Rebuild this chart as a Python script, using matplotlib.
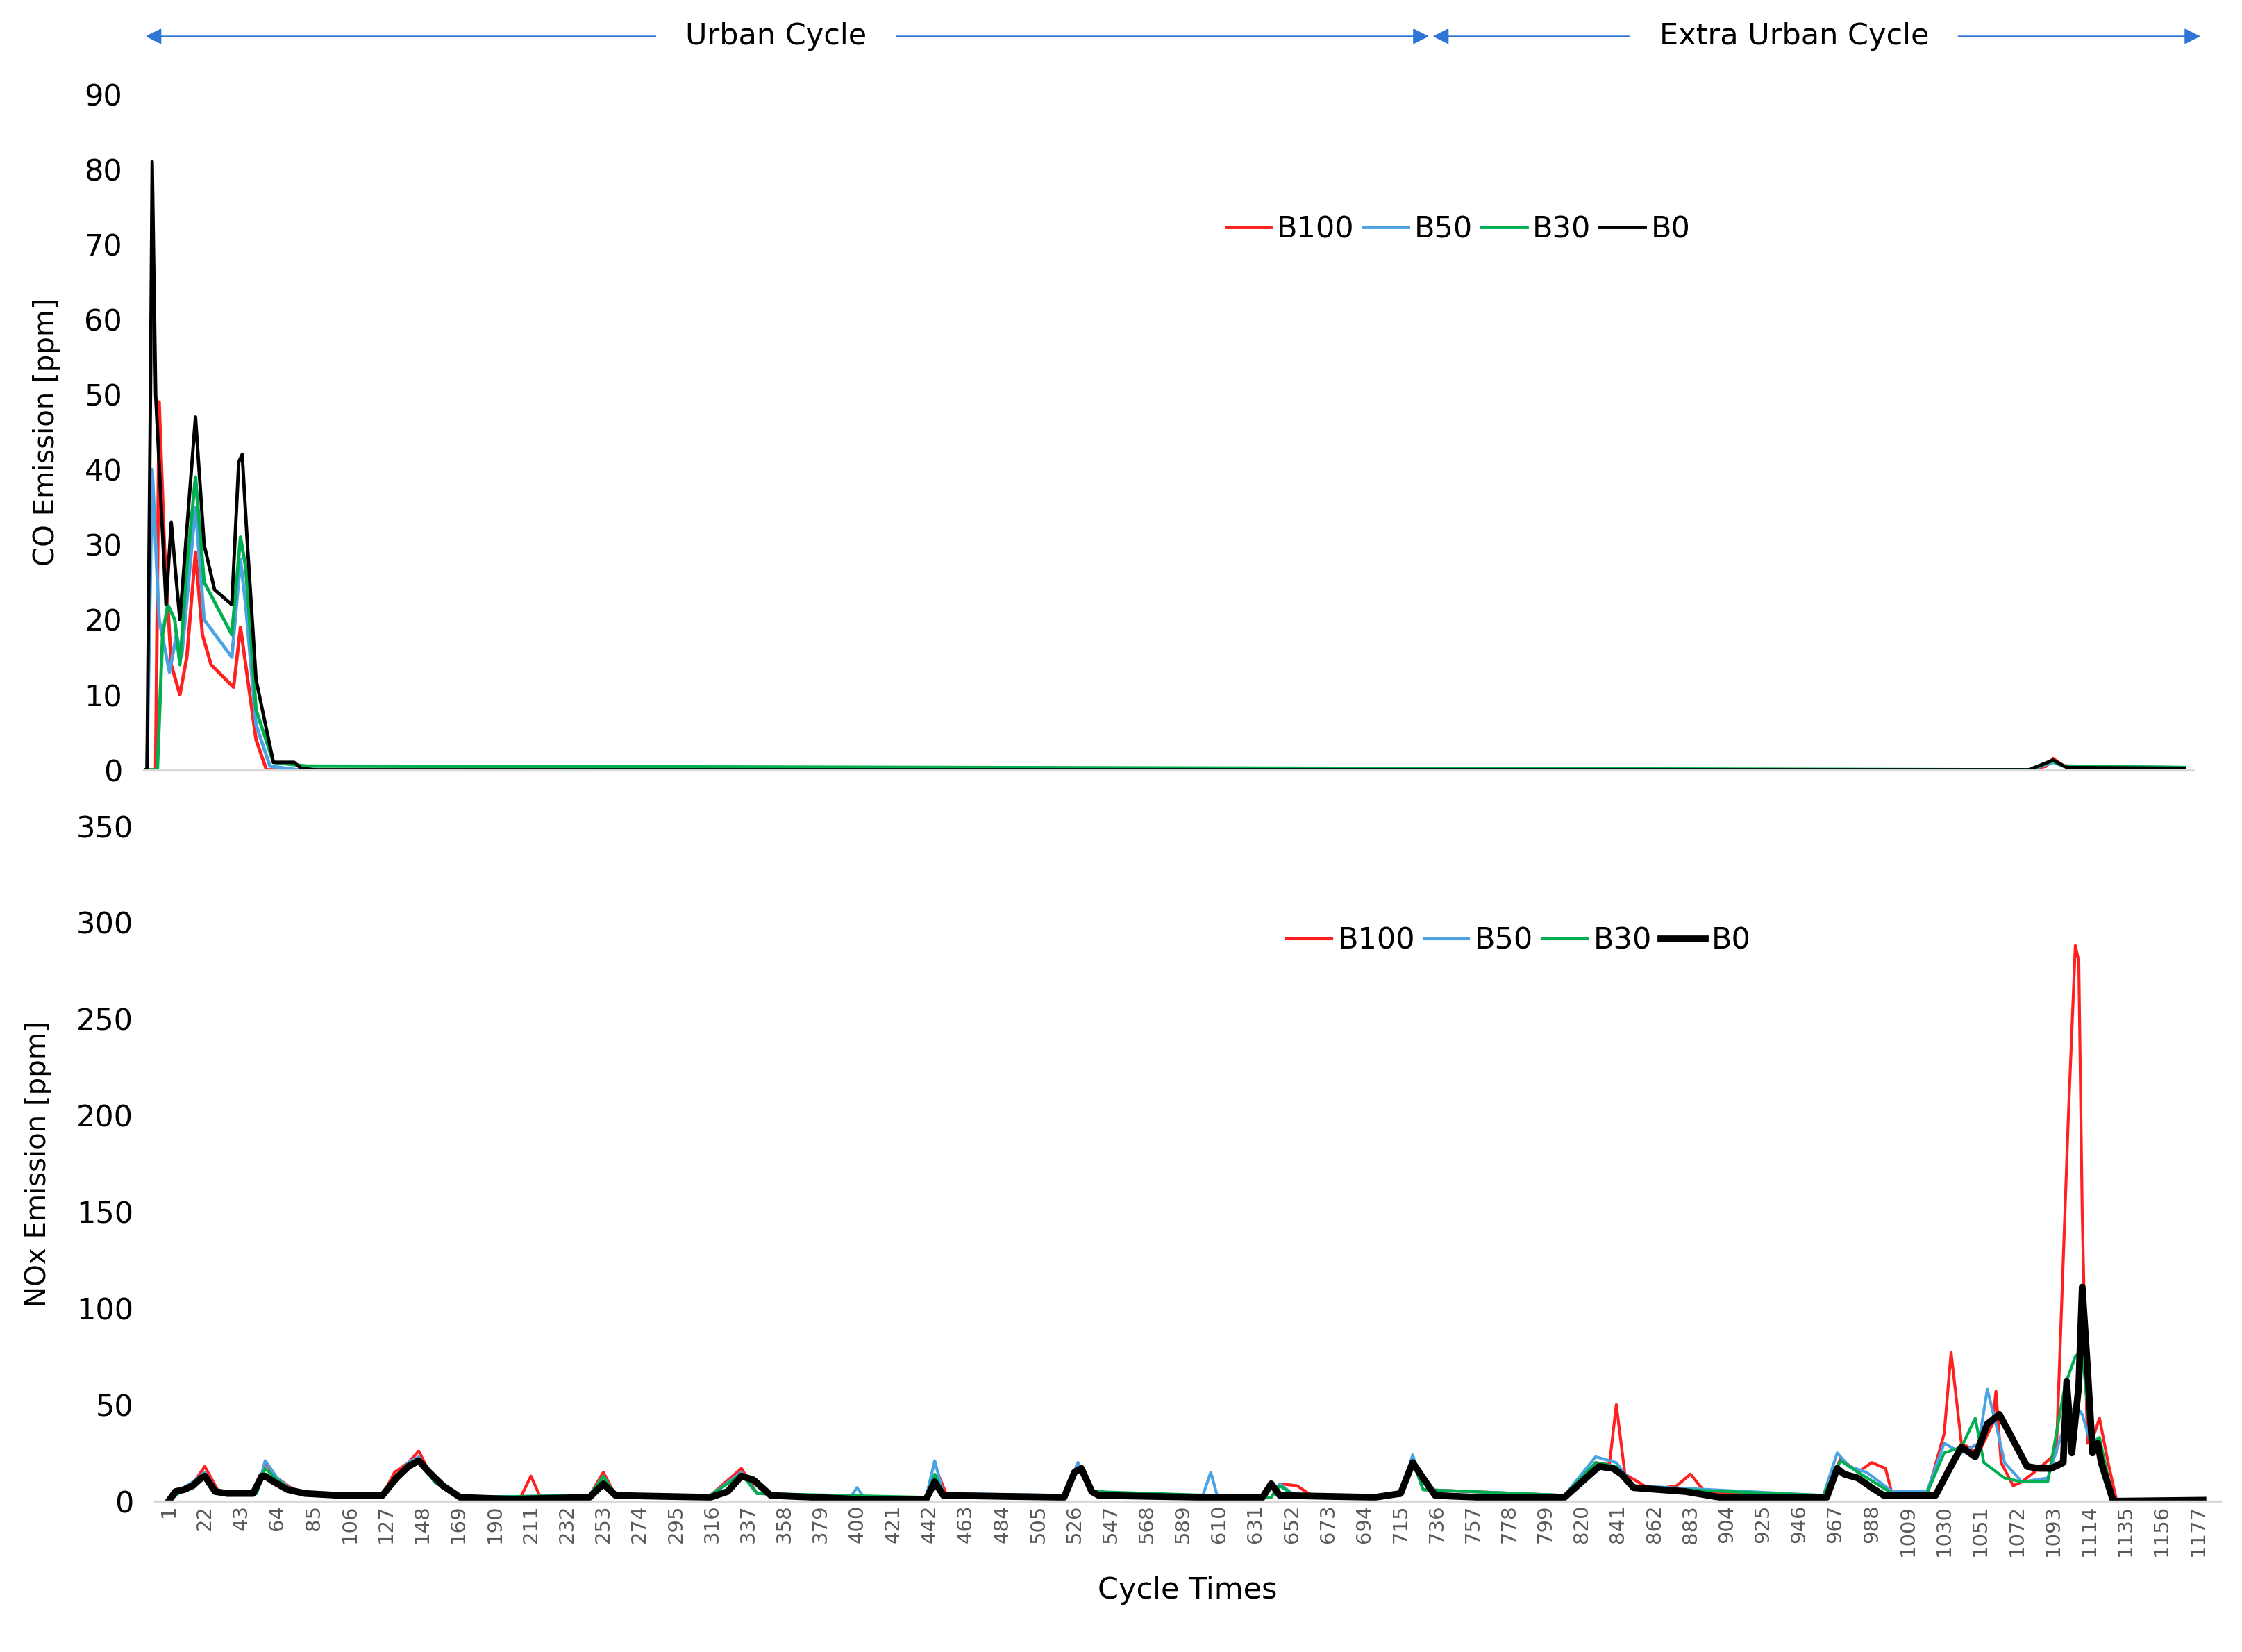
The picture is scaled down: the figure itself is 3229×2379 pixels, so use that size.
import numpy as np
import matplotlib
matplotlib.use("Agg")
import matplotlib.pyplot as plt

# ---- data (breakpoints) ----
co_b100_t = [1, 8, 10, 13, 17, 22, 26, 31, 35, 40, 53, 57, 60, 66, 72, 90, 1090, 1100, 1104, 1110, 1180]
co_b100_v = [0, 0, 49, 30, 14, 10, 15, 29, 18, 14, 11, 19, 14, 4, 0, 0, 0, 0.5, 1.5, 0.5, 0.2]
co_b50_t = [1, 3, 6, 10, 16, 20, 23, 31, 36, 52, 57, 60, 66, 74, 90, 1090, 1104, 1110, 1180]
co_b50_v = [0, 0, 40, 20, 13, 18, 15, 35, 20, 15, 28, 22, 6, 0.5, 0, 0, 1, 0.5, 0.3]
co_b30_t = [1, 9, 12, 15, 19, 22, 26, 31, 36, 52, 57, 60, 66, 76, 95, 1090, 1104, 1110, 1180]
co_b30_v = [0, 0, 18, 22, 20, 14, 27, 39, 25, 18, 31, 27, 8, 1, 0.5, 0, 1.2, 0.5, 0.3]
co_b0_t = [1, 3, 5, 6, 8, 14, 17, 20, 22, 26, 31, 36, 42, 52, 56, 58, 61, 66, 76, 88, 92, 100, 1090, 1104, 1112, 1180]
co_b0_v = [0, 0, 50, 81, 50, 22, 33, 25, 20, 32, 47, 30, 24, 22, 41, 42, 30, 12, 1, 1, 0.2, 0, 0, 1.3, 0.3, 0.2]

nox_b100_t = [1, 8, 15, 22, 30, 40, 52, 57, 64, 75, 100, 125, 132, 140, 146, 155, 170, 205, 211, 216, 245, 253, 260, 315, 333, 342, 395, 440, 447, 452, 520, 528, 536, 600, 640, 645, 655, 665, 715, 722, 728, 810, 828, 836, 840, 845, 860, 875, 883, 892, 960, 970, 980, 988, 996, 1000, 1020, 1030, 1034, 1040, 1050, 1058, 1060, 1063, 1070, 1075, 1085, 1095, 1102, 1106, 1108, 1110, 1113, 1117, 1120, 1125, 1130, 1180]
nox_b100_v = [0, 5, 9, 18, 5, 4, 4, 20, 12, 5, 3, 3, 15, 20, 26, 10, 2, 2, 13, 3, 3, 15, 3, 3, 17, 4, 2, 2, 14, 3, 3, 20, 5, 2, 2, 9, 8, 2, 3, 22, 6, 3, 20, 19, 50, 14, 6, 8, 14, 4, 3, 22, 15, 20, 17, 3, 3, 35, 77, 30, 25, 40, 57, 20, 8, 10, 17, 25, 200, 288, 280, 150, 30, 35, 43, 20, 0, 1]
nox_b50_t = [1, 8, 15, 22, 30, 52, 57, 64, 75, 125, 140, 146, 155, 170, 245, 253, 260, 315, 333, 342, 396, 400, 404, 440, 445, 450, 520, 528, 536, 600, 605, 609, 640, 645, 655, 715, 722, 728, 810, 828, 840, 850, 960, 968, 975, 985, 1000, 1020, 1030, 1040, 1050, 1055, 1060, 1065, 1075, 1090, 1100, 1106, 1110, 1115, 1120, 1128, 1180]
nox_b50_v = [0, 6, 10, 15, 4, 4, 21, 12, 4, 3, 20, 23, 10, 2, 3, 13, 3, 3, 15, 4, 2, 7, 2, 2, 21, 4, 3, 20, 5, 2, 15, 2, 2, 9, 2, 3, 24, 6, 3, 23, 20, 8, 3, 25, 18, 15, 5, 5, 30, 25, 30, 58, 40, 20, 10, 12, 40, 50, 45, 30, 30, 0, 1]
nox_b30_t = [1, 8, 15, 22, 30, 52, 57, 64, 75, 125, 140, 146, 155, 170, 245, 253, 260, 315, 333, 342, 440, 445, 450, 520, 528, 536, 640, 645, 655, 715, 722, 728, 810, 828, 840, 850, 960, 970, 980, 1000, 1020, 1030, 1040, 1048, 1053, 1065, 1075, 1090, 1100, 1106, 1110, 1115, 1120, 1128, 1180]
nox_b30_v = [0, 5, 9, 14, 4, 4, 17, 11, 4, 3, 18, 22, 10, 2, 3, 13, 3, 3, 14, 4, 2, 14, 3, 3, 17, 5, 2, 8, 2, 3, 21, 6, 3, 20, 18, 7, 3, 21, 15, 4, 4, 25, 28, 43, 20, 12, 10, 10, 60, 75, 78, 30, 33, 0, 1]
nox_b0_t = [1, 5, 10, 15, 20, 22, 28, 35, 50, 55, 57, 62, 70, 80, 100, 125, 133, 140, 146, 152, 160, 170, 200, 245, 253, 260, 315, 325, 333, 340, 350, 400, 440, 445, 450, 520, 526, 530, 536, 540, 600, 635, 640, 645, 700, 715, 722, 728, 735, 760, 810, 820, 830, 838, 843, 850, 880, 900, 962, 968, 972, 980, 988, 995, 1025, 1035, 1040, 1048, 1055, 1062, 1068, 1078, 1085, 1092, 1099, 1101, 1104, 1108, 1110, 1113, 1116, 1119, 1121, 1128, 1180]
nox_b0_v = [0, 5, 6, 8, 12, 13, 5, 4, 4, 13, 13, 10, 6, 4, 3, 3, 12, 18, 21, 15, 8, 2, 1, 2, 9, 3, 2, 5, 13, 11, 3, 1, 1, 10, 3, 2, 15, 17, 5, 3, 2, 2, 9, 3, 2, 4, 20, 12, 3, 2, 2, 10, 18, 17, 14, 7, 5, 2, 2, 17, 14, 12, 7, 3, 3, 20, 28, 23, 40, 45, 35, 18, 17, 17, 20, 62, 25, 60, 111, 70, 25, 30, 20, 0, 0.5]

x_ticks = list(range(1, 1178, 21))

# ---- figure ----
fig = plt.figure(figsize=(32.3, 23.79), dpi=100)
ax1 = fig.add_axes([0.064, 0.534, 0.914, 0.409])
ax2 = fig.add_axes([0.069, 0.0913, 0.921, 0.4087])

colors = {"B100": "#FF2020", "B50": "#4BA3E3", "B30": "#00B050", "B0": "#000000"}

ax1.plot(co_b100_t, co_b100_v, color=colors["B100"], lw=3.5, label="B100")
ax1.plot(co_b50_t, co_b50_v, color=colors["B50"], lw=3.5, label="B50")
ax1.plot(co_b30_t, co_b30_v, color=colors["B30"], lw=3.5, label="B30")
ax1.plot(co_b0_t, co_b0_v, color=colors["B0"], lw=3.5, label="B0")

ax2.plot(nox_b100_t, nox_b100_v, color=colors["B100"], lw=3, label="B100")
ax2.plot(nox_b50_t, nox_b50_v, color=colors["B50"], lw=3, label="B50")
ax2.plot(nox_b30_t, nox_b30_v, color=colors["B30"], lw=3, label="B30")
ax2.plot(nox_b0_t, nox_b0_v, color=colors["B0"], lw=7, label="B0")

ax1.set_xlim(1, 1185)
ax1.set_ylim(0, 90)
ax1.set_yticks(range(0, 91, 10))
ax1.set_xticks([])
ax2.set_xlim(-7, 1190)
ax2.set_ylim(0, 350)
ax2.set_yticks(range(0, 351, 50))
ax2.set_xticks(x_ticks)
ax2.set_xticklabels([str(t) for t in x_ticks], rotation=90, fontsize=21, color="#595959")

for ax in (ax1, ax2):
    for s in ("top", "right", "left"):
        ax.spines[s].set_visible(False)
    ax.spines["bottom"].set_color("#D9D9D9")
    ax.spines["bottom"].set_linewidth(2.5)
    ax.tick_params(axis="y", length=0, labelsize=31, pad=22)
    ax.tick_params(axis="x", length=0)

ax1.set_ylabel("CO Emission [ppm]", fontsize=29, labelpad=25)
ax2.set_ylabel("NOx Emission [ppm]", fontsize=29, labelpad=25)
ax2.set_xlabel("Cycle Times", fontsize=31, labelpad=20)

for ax, anchor in ((ax1, (0.515, 0.80)), (ax2, (0.535, 0.83))):
    ax.legend(loc="center left", bbox_to_anchor=anchor, ncol=4, frameon=False,
              fontsize=31, handlelength=1.5, handletextpad=0.2, columnspacing=0.3)

# ---- cycle arrows ----
arrow_col = "#2E75D6"
y_ar = 0.978
for x0, x1, xt, txt in ((0.064, 0.638, 0.346, "Urban Cycle"), (0.638, 0.982, 0.80, "Extra Urban Cycle")):
    fig.add_artist(matplotlib.patches.FancyArrowPatch((x0, y_ar), (x1, y_ar), transform=fig.transFigure,
                   arrowstyle="<|-|>", mutation_scale=35, color=arrow_col, lw=1.5))
    fig.text(xt, y_ar, txt, ha="center", va="center", fontsize=31,
             bbox=dict(facecolor="white", edgecolor="none", pad=30))

fig.savefig("out.png", dpi=100)
